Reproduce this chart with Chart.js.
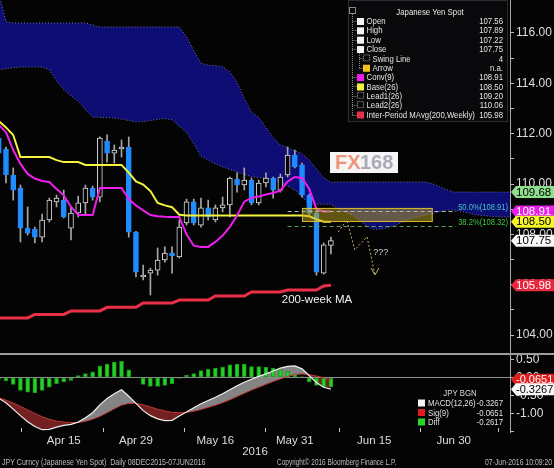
<!DOCTYPE html>
<html>
<head>
<meta charset="utf-8">
<title>JPY Curncy (Japanese Yen Spot)</title>
<script src="https://cdn.jsdelivr.net/npm/chart.js@4.4.1/dist/chart.umd.min.js"></script>
<style>
  html, body { margin: 0; padding: 0; background: #040404; overflow: hidden; }
  canvas { display: block; }
</style>
</head>
<body>
<canvas id="price" width="554" height="355"></canvas>
<canvas id="macd" width="554" height="113"></canvas>
<script>
// JPY Curncy daily candles, Apr 4 - Jun 7 2016
const dates = ['Apr 4','Apr 5','Apr 6','Apr 7','Apr 8','Apr 11','Apr 12','Apr 13','Apr 14','Apr 15',
  'Apr 18','Apr 19','Apr 20','Apr 21','Apr 22','Apr 25','Apr 26','Apr 27','Apr 28','Apr 29',
  'May 2','May 3','May 4','May 5','May 6','May 9','May 10','May 11','May 12','May 13',
  'May 16','May 17','May 18','May 19','May 20','May 23','May 24','May 25','May 26','May 27',
  'May 30','May 31','Jun 1','Jun 2','Jun 3','Jun 6','Jun 7'];

const open  = [111.83,111.39,110.36,109.84,108.25,108.21,107.89,108.57,109.29,109.36,
               108.25,108.85,109.25,109.84,109.48,111.71,111.23,111.39,111.47,108.09,
               106.31,106.46,106.58,106.98,107.26,107.10,108.45,109.29,108.37,109.05,
               108.57,109.05,109.17,110.20,109.96,110.16,109.25,110.04,110.24,109.76,
               110.36,111.15,110.76,109.56,108.85,106.46,107.56];
const high  = [111.95,111.47,110.64,109.96,109.09,108.29,108.81,109.44,109.56,109.76,
               109.09,109.52,109.96,109.92,111.87,111.95,111.55,111.75,111.87,108.12,
               106.78,106.66,107.46,107.50,107.50,108.57,109.40,109.40,109.44,109.36,
               109.17,109.48,110.28,110.44,110.64,110.24,110.16,110.44,110.28,110.40,
               111.47,111.35,110.83,109.60,109.05,107.66,107.89];
const low   = [111.15,110.04,109.36,107.70,107.97,107.66,107.70,108.49,109.09,108.65,
               107.78,108.69,108.77,109.36,109.29,110.87,110.83,111.07,107.89,106.31,
               106.19,105.59,106.38,106.90,106.46,107.06,108.37,108.37,108.29,108.57,
               108.49,108.89,108.69,109.68,109.76,109.17,109.17,109.88,109.44,109.68,
               110.28,110.64,109.48,108.77,106.38,106.42,107.22];
const close = [111.23,110.36,109.76,108.25,108.05,107.89,108.57,109.36,109.44,108.69,
               108.85,109.25,109.84,109.48,111.83,111.23,111.35,111.47,108.09,106.50,
               106.38,106.58,106.98,107.26,107.14,108.29,109.29,108.45,109.05,108.69,
               109.05,109.17,110.24,109.96,110.16,109.25,110.04,110.24,109.76,110.28,
               111.15,110.68,109.56,108.85,106.50,107.58,107.75];

const conv9  = [112.35,112.05,111.35,110.80,110.40,110.22,110.12,110.08,109.80,109.55,
                109.10,108.77,108.77,108.77,109.84,109.84,109.84,109.84,109.40,109.15,
                108.95,108.77,108.72,108.70,108.69,108.69,108.00,107.55,107.50,107.50,
                107.70,107.95,108.30,108.75,109.30,109.45,109.50,109.58,109.64,109.74,
                110.10,110.28,110.24,109.80,109.00,108.91,108.91];
const base26 = [112.50,112.25,111.95,111.07,111.07,111.07,111.07,111.07,110.95,110.87,
                110.87,110.87,110.76,110.76,110.76,110.76,110.76,110.76,110.45,110.10,
                109.98,109.72,109.25,109.15,109.08,108.78,108.75,108.75,108.75,108.75,
                108.75,108.75,108.75,108.75,108.75,108.75,108.75,108.75,108.75,108.75,
                108.75,108.75,108.75,108.72,108.60,108.50,108.50];
// cloud lines run 26 sessions past the last candle
const lead1 = [114.53,114.58,114.62,114.65,114.65,114.65,114.65,114.53,114.10,113.75,
               113.50,113.30,112.95,112.66,112.65,112.64,112.62,112.58,112.52,112.47,
               112.48,112.52,112.57,112.60,112.55,112.30,112.05,111.60,111.10,110.95,
               110.80,110.68,110.58,110.48,110.38,110.29,110.26,110.24,110.15,110.08,
               109.92,109.76,109.50,109.20,109.20,109.20,109.20,109.00,108.88,108.77,
               108.55,108.32,108.20,108.20,108.28,108.37,108.50,108.62,108.70,108.76,
               108.82,108.90,108.96,108.97,108.92,108.85,108.78,108.75,108.72,108.70,
               108.69,108.69,108.69];
const lead2 = [117.60,116.45,116.40,116.40,116.40,116.40,116.40,116.40,116.40,116.40,
               116.40,116.40,116.40,116.32,116.24,116.24,116.24,116.24,116.24,116.24,
               116.24,116.24,116.24,116.24,116.24,116.24,115.85,115.30,114.80,114.72,
               114.70,114.66,114.45,114.05,113.40,112.85,112.65,112.25,111.85,111.55,
               111.45,111.32,111.20,110.95,110.60,110.25,110.06,110.08,110.08,110.08,
               110.08,110.08,110.08,110.08,110.08,110.08,110.08,110.08,110.08,110.08,
               110.02,109.90,109.78,109.68,109.68,109.68,109.68,109.68,109.68,109.68,
               109.68,109.68,109.68];
const mavg200w = [104.68,104.68,104.68,104.68,104.68,104.82,104.82,104.82,104.82,104.82,
                  104.96,104.96,104.96,104.96,104.96,105.10,105.10,105.10,105.10,105.10,
                  105.27,105.27,105.27,105.27,105.27,105.39,105.39,105.39,105.39,105.39,
                  105.55,105.55,105.55,105.55,105.55,105.71,105.71,105.71,105.71,105.71,
                  105.79,105.79,105.79,105.79,105.79,105.95,105.98];

const macdLine = [-0.58,-0.70,-0.88,-1.06,-1.23,-1.36,-1.45,-1.44,-1.38,-1.33,
                  -1.30,-1.24,-1.12,-0.98,-0.76,-0.58,-0.45,-0.34,-0.52,-0.72,
                  -0.92,-1.06,-1.15,-1.20,-1.19,-1.07,-0.96,-0.84,-0.73,-0.64,
                  -0.55,-0.45,-0.34,-0.23,-0.13,-0.05,0.03,0.10,0.18,0.26,
                  0.31,0.32,0.24,0.05,-0.14,-0.27,-0.3267];
const sigLine  = [-0.56,-0.63,-0.71,-0.80,-0.90,-1.00,-1.09,-1.16,-1.21,-1.24,
                  -1.25,-1.25,-1.22,-1.16,-1.08,-0.98,-0.87,-0.77,-0.72,-0.72,
                  -0.76,-0.82,-0.88,-0.93,-0.97,-0.98,-0.97,-0.94,-0.89,-0.83,
                  -0.77,-0.70,-0.62,-0.53,-0.44,-0.35,-0.27,-0.19,-0.11,-0.04,
                  0.03,0.08,0.10,0.08,0.04,-0.01,-0.0651];
const diffBars = [-0.04,-0.095,-0.19,-0.36,-0.41,-0.43,-0.36,-0.27,-0.17,-0.12,
                  -0.08,0.05,0.11,0.16,0.32,0.37,0.43,0.45,0.21,0.01,
                  -0.19,-0.25,-0.25,-0.22,-0.17,-0.02,0.07,0.11,0.19,0.23,
                  0.26,0.29,0.35,0.37,0.37,0.30,0.30,0.29,0.26,0.22,
                  0.17,0.10,0.02,-0.12,-0.22,-0.27,-0.2617];

const priceTicks = [104,105,106,107,108,109,110,111,112,113,114,115,116];
const macdTicks = [0.5, 0, -0.5, -1, -1.5];
const tickLabels = ['Apr 15','Apr 29','May 16','May 31','Jun 15','Jun 30'];
const tickIndex = [9, 19, 30, 41, 52, 63];         // session number of each label
const sepIndex = [3.1, 14.4, 25.6, 36.9, 47.1, 58.4, 69.1];

const fibPct = ['50.0%', '38.2%'];
const fibValue = [108.91, 108.32];

const legendNames = ['Open','High','Low','Close','Swing Line','Arrow','Conv(9)','Base(26)',
                     'Lead1(26)','Lead2(26)','Inter-Period MAvg(200,Weekly)'];

// drawing helpers ----------------------------------------------------------
const FONT = '"Liberation Sans", Arial, sans-serif';
Chart.defaults.font.family = FONT;

const pts = arr => arr.map((v, i) => ({x: i, y: v}));
const isUp = c => close[c.dataIndex] >= open[c.dataIndex];

function say(ctx, text, px, py, o) {
  ctx.save();
  ctx.font = (o.bold ? 'bold ' : '') + o.size + 'px ' + FONT;
  ctx.fillStyle = o.color;
  ctx.textBaseline = 'middle';
  ctx.textAlign = o.align || 'left';
  ctx.translate(px, py);
  ctx.scale(o.sx || 1, 1);
  ctx.fillText(text, 0, 0);
  ctx.restore();
}

function tag(ctx, left, right, py, text, bg, fg, size) {
  ctx.fillStyle = bg;
  ctx.beginPath();
  ctx.moveTo(left + 1, py);
  ctx.lineTo(left + 6, py - 6);
  ctx.lineTo(right, py - 6);
  ctx.lineTo(right, py + 6);
  ctx.lineTo(left + 6, py + 6);
  ctx.closePath();
  ctx.fill();
  say(ctx, text, left + 6, py + 0.5, {size: size, color: fg});
}

const xMin = 0.17, xMax = 70.8;

// price panel ------------------------------------------------------------------
const priceOverlay = {
  id: 'priceOverlay',
  afterDatasetsDraw(chart) {
    const {ctx, chartArea: a, scales: {x, y}} = chart;
    ctx.save();
    ctx.beginPath(); ctx.rect(a.left, a.top, a.right - a.left, a.bottom - a.top); ctx.clip();

    // resistance zone
    const zx0 = x.getPixelForValue(42), zx1 = x.getPixelForValue(60.1);
    const zy0 = y.getPixelForValue(109.05), zy1 = y.getPixelForValue(108.49);
    ctx.fillStyle = 'rgba(190,165,30,0.5)';
    ctx.fillRect(zx0, zy0, zx1 - zx0, zy1 - zy0);
    ctx.strokeStyle = 'rgba(225,195,50,0.9)';
    ctx.lineWidth = 1;
    ctx.strokeRect(zx0 + .5, zy0 + .5, zx1 - zx0 - 1, zy1 - zy0 - 1);

    // retracement levels
    const fibLine = ['#b4b4b4', '#5f9f5f'];
    const fibText = ['#45c4c4', '#3fc43f'];
    fibValue.forEach((v, k) => {
      const py = Math.round(y.getPixelForValue(v)) + .5;
      const label = fibPct[k] + '(' + v.toFixed(2) + ')';
      ctx.font = '9.5px ' + FONT;
      const w = ctx.measureText(label).width * 0.8;
      ctx.strokeStyle = fibLine[k];
      ctx.setLineDash([4, 3]);
      ctx.beginPath();
      ctx.moveTo(x.getPixelForValue(40), py);
      ctx.lineTo(a.right - 4 - w, py);
      ctx.stroke();
      ctx.setLineDash([]);
      say(ctx, label, a.right - 2, py - 4, {size: 9.5, color: fibText[k], align: 'right', sx: 0.8});
    });

    // scenario arrow
    const path = [[47, 108.09], [48.2, 108.57], [49.3, 107.38], [51, 107.90], [52.1, 106.39]];
    ctx.strokeStyle = '#c8b06c';
    ctx.setLineDash([2, 2]);
    ctx.beginPath();
    path.forEach(([i, v], k) => {
      const px = x.getPixelForValue(i), py = y.getPixelForValue(v);
      if (k) ctx.lineTo(px, py); else ctx.moveTo(px, py);
    });
    ctx.stroke();
    ctx.setLineDash([]);
    const ex = x.getPixelForValue(52.1), ey = y.getPixelForValue(106.39);
    ctx.beginPath();
    ctx.moveTo(ex - 4, ey - 7); ctx.lineTo(ex, ey); ctx.lineTo(ex + 4, ey - 7);
    ctx.stroke();
    say(ctx, '???', x.getPixelForValue(52.9), y.getPixelForValue(107.26), {size: 9, color: '#cfcfcf', align: 'center'});
    say(ctx, '200-week MA', x.getPixelForValue(39.2), y.getPixelForValue(105.39), {size: 11.5, color: '#f4f4f4'});

    // watermark
    ctx.fillStyle = '#f5f5f5';
    ctx.fillRect(330, 152, 68, 21);
    say(ctx, 'FX', 335, 163, {size: 20, bold: true, color: '#ee9478'});
    say(ctx, '168', 360, 163, {size: 20, bold: true, color: '#a9abb9'});

    // study legend
    const L = 348, R = 508, B = 122;
    ctx.fillStyle = '#09090b';
    ctx.fillRect(L, 0, R - L, B);
    ctx.strokeStyle = '#2b2b30';
    ctx.strokeRect(L + .5, .5, R - L - 1, B - 1);
    say(ctx, 'Japanese Yen Spot', 430, 12, {size: 9.5, color: '#e8e8e8', align: 'center', sx: 0.82});
    const last = close.length - 1;
    const values = [open[last], high[last], low[last], close[last]].map(v => v.toFixed(2))
      .concat(['4', 'n.a.', conv9[last].toFixed(2), base26[last].toFixed(2),
               lead1[last].toFixed(2), lead2[last].toFixed(2), mavg200w[last].toFixed(2)]);
    const swatch = ['#f4f4f4','#f4f4f4','#f4f4f4','#f4f4f4','dot','#f2c21a','#ee1fee','#f4f43c','dot','dot','#ea2f48'];
    ctx.strokeStyle = '#8a8a8a';
    ctx.setLineDash([1, 1]);
    ctx.beginPath();
    ctx.moveTo(352.5, 14); ctx.lineTo(352.5, 115);
    ctx.moveTo(359.5, 53); ctx.lineTo(359.5, 68);
    legendNames.forEach((name, k) => {
      const ry = Math.round(21 + k * 9.35) + .5;
      const sub = k === 4 || k === 5;
      if (sub) { ctx.moveTo(359.5, ry); ctx.lineTo(363, ry); }
      else { ctx.moveTo(352.5, ry); ctx.lineTo(357, ry); }
    });
    ctx.stroke();
    ctx.setLineDash([]);
    ctx.strokeRect(349.5, 7.5, 6, 6);
    legendNames.forEach((name, k) => {
      const ry = 21 + k * 9.35;
      const sx0 = (k === 4 || k === 5) ? 363 : 357;
      if (swatch[k] === 'dot') {
        ctx.strokeStyle = '#9a9a9a';
        ctx.setLineDash([1, 1]);
        ctx.strokeRect(sx0 + .5, ry - 3.5, 6, 6);
        ctx.setLineDash([]);
      } else {
        ctx.fillStyle = swatch[k];
        ctx.fillRect(sx0, ry - 3, 7, 7);
      }
      say(ctx, name, sx0 + 9.5, ry + .5, {size: 9.5, color: '#e4e4e4', sx: 0.82});
      say(ctx, values[k], 503, ry + .5, {size: 9.5, color: '#e4e4e4', align: 'right', sx: 0.82});
    });
    ctx.restore();
  },
  afterDraw(chart) {
    const {ctx, scales: {y}} = chart;
    const last = close.length - 1;
    const tags = [
      [lead2[lead2.length - 1], '#8ede8e', '#000'],
      [conv9[last], '#e81ee8', '#fff'],
      [base26[last], '#f6f62a', '#000'],
      [close[last], '#f8f8f8', '#000'],
      [mavg200w[last], '#e8283e', '#fff']
    ];
    tags.forEach(([v, bg, fg]) => tag(ctx, y.left, chart.width, y.getPixelForValue(v), v.toFixed(2), bg, fg, 11.5));
    // panel separator
    ctx.fillStyle = '#9e9e9e';
    ctx.fillRect(0, 353, chart.width, 2);
  }
};

new Chart(document.getElementById('price'), {
  type: 'line',
  data: {
    datasets: [
      {label: 'Conv(9)', data: pts(conv9), borderColor: '#ee1fee', borderWidth: 2},
      {label: 'Base(26)', data: pts(base26), borderColor: '#f4f43c', borderWidth: 2},
      {label: 'MAvg(200,Weekly)', data: pts(mavg200w), borderColor: '#ea2f48', borderWidth: 3},
      {type: 'bar', label: 'Body', grouped: false, barThickness: 5, borderWidth: 1, borderSkipped: false,
       data: dates.map((d, i) => ({x: i, y: [open[i], close[i]]})),
       backgroundColor: c => isUp(c) ? '#050505' : '#1f8cff',
       borderColor: c => isUp(c) ? '#dadada' : '#1f8cff'},
      {type: 'bar', label: 'Wick', grouped: false, barThickness: 1, borderWidth: 0,
       data: dates.map((d, i) => ({x: i, y: [low[i], high[i]]})),
       backgroundColor: '#a6a6a6'},
      {label: 'Lead2(26)', data: pts(lead2), borderColor: '#7474a4', borderWidth: 1, borderDash: [1, 2],
       fill: '+1', backgroundColor: '#0d0d74'},
      {label: 'Lead1(26)', data: pts(lead1), borderColor: '#7474a4', borderWidth: 1, borderDash: [1, 2]}
    ]
  },
  options: {
    responsive: false,
    animation: false,
    events: [],
    layout: {padding: 0},
    elements: {point: {radius: 0}, line: {tension: 0}},
    plugins: {legend: {display: false}, tooltip: {enabled: false}, filler: {drawTime: 'beforeDatasetsDraw'}},
    scales: {
      x: {type: 'linear', min: xMin, max: xMax, offset: false, display: false},
      y: {
        position: 'right', min: 103.207, max: 117.311,
        afterBuildTicks: s => { s.ticks = priceTicks.map(v => ({value: v})); },
        afterFit: s => { s.width = 44; s.paddingTop = 0; s.paddingBottom = 0; },
        ticks: {color: '#dedede', padding: 2, font: {size: 12}, autoSkip: false,
                callback: v => v % 2 === 0 ? v.toFixed(2) : ''},
        grid: {drawOnChartArea: false, tickLength: 4, color: '#bdbdbd'},
        border: {color: '#a8a8a8'}
      }
    }
  },
  plugins: [priceOverlay]
});

// MACD panel -------------------------------------------------------------------
const macdOverlay = {
  id: 'macdOverlay',
  beforeDatasetsDraw(chart) {
    const {ctx, chartArea: a, scales: {y}} = chart;
    const py = Math.round(y.getPixelForValue(0)) + .5;
    ctx.save();
    ctx.strokeStyle = '#8e8e8e';
    ctx.lineWidth = 1;
    ctx.beginPath(); ctx.moveTo(a.left, py); ctx.lineTo(a.right, py); ctx.stroke();
    ctx.restore();
  },
  afterDraw(chart) {
    const {ctx, chartArea: a, scales: {x, y}} = chart;
    ctx.save();
    // date separators along the bottom edge
    ctx.strokeStyle = '#c8c8c8';
    ctx.beginPath();
    sepIndex.forEach(i => {
      const px = Math.round(x.getPixelForValue(i)) + .5;
      ctx.moveTo(px, a.bottom - 4); ctx.lineTo(px, a.bottom);
    });
    ctx.stroke();

    // legend
    const last = macdLine.length - 1;
    say(ctx, 'JPY BGN', 460, 38, {size: 9.5, color: '#dcdcdc', align: 'center', sx: 0.82});
    const rows = [['MACD(12,26)', macdLine[last], '#f4f4f4'], ['Sig(9)', sigLine[last], '#e01c1c'], ['Diff', diffBars[last], '#25d825']];
    rows.forEach(([name, v, col], k) => {
      const ry = 48 + k * 9.5;
      ctx.fillStyle = col;
      ctx.fillRect(418, ry - 3.5, 7, 7);
      say(ctx, name, 428, ry + .5, {size: 9.5, color: '#e0e0e0', sx: 0.82});
      say(ctx, v.toFixed(4), 503, ry + .5, {size: 9.5, color: '#e0e0e0', align: 'right', sx: 0.82});
    });

    // last-value tags
    tag(ctx, y.left, chart.width, y.getPixelForValue(sigLine[last]), sigLine[last].toFixed(4), '#e01e1e', '#fff', 11);
    tag(ctx, y.left, chart.width, y.getPixelForValue(macdLine[last]), macdLine[last].toFixed(4), '#f8f8f8', '#000', 11);

    // axis year and footer
    say(ctx, '2016', (a.left + a.right) / 2, 97, {size: 11.5, color: '#dcdcdc', align: 'center'});
    say(ctx, 'JPY Curncy (Japanese Yen Spot)  Daily 08DEC2015-07JUN2016', 2, 108, {size: 9, color: '#bdbdbd', sx: 0.78});
    say(ctx, 'Copyright\u00a9 2016 Bloomberg Finance L.P.', 277, 108, {size: 9, color: '#bdbdbd', sx: 0.72});
    say(ctx, '07-Jun-2016 10:09:20', 552, 108, {size: 9, color: '#bdbdbd', align: 'right', sx: 0.76});
    ctx.restore();
  }
};

new Chart(document.getElementById('macd'), {
  type: 'line',
  data: {
    datasets: [
      {label: 'MACD(12,26)', data: pts(macdLine), borderColor: '#f0f0f0', borderWidth: 1.2,
       fill: {target: '+1', above: 'rgba(150,150,150,0.88)', below: 'rgba(128,36,36,0.9)'}},
      {label: 'Sig(9)', data: pts(sigLine), borderColor: '#c23434', borderWidth: 1},
      {type: 'bar', label: 'Diff', data: pts(diffBars), grouped: false, barThickness: 4,
       backgroundColor: '#27d127', borderColor: '#149414', borderWidth: 1, borderSkipped: false}
    ]
  },
  options: {
    responsive: false,
    animation: false,
    events: [],
    layout: {padding: 0},
    elements: {point: {radius: 0}, line: {tension: 0}},
    plugins: {legend: {display: false}, tooltip: {enabled: false}, filler: {drawTime: 'beforeDatasetsDraw'}},
    scales: {
      x: {
        type: 'linear', min: xMin, max: xMax, offset: false,
        afterBuildTicks: s => { s.ticks = tickIndex.map(v => ({value: v})); },
        afterFit: s => { s.height = 36; s.paddingLeft = 0; s.paddingRight = 0; },
        ticks: {color: '#dedede', font: {size: 11.5}, padding: 2, maxRotation: 0, autoSkip: false,
                callback: (v, k) => tickLabels[k]},
        grid: {display: false, drawTicks: false, offset: false},
        border: {display: false}
      },
      y: {
        position: 'right', min: -1.514, max: 0.625,
        afterBuildTicks: s => { s.ticks = macdTicks.map(v => ({value: v})); },
        afterFit: s => { s.width = 44; s.paddingTop = 0; s.paddingBottom = 0; },
        ticks: {color: '#dedede', padding: 2, font: {size: 12}, autoSkip: false,
                callback: v => v === -1.5 ? '' : v.toFixed(2)},
        grid: {drawOnChartArea: false, tickLength: 4, color: '#bdbdbd'},
        border: {color: '#a8a8a8'}
      }
    }
  },
  plugins: [macdOverlay]
});
</script>
</body>
</html>
